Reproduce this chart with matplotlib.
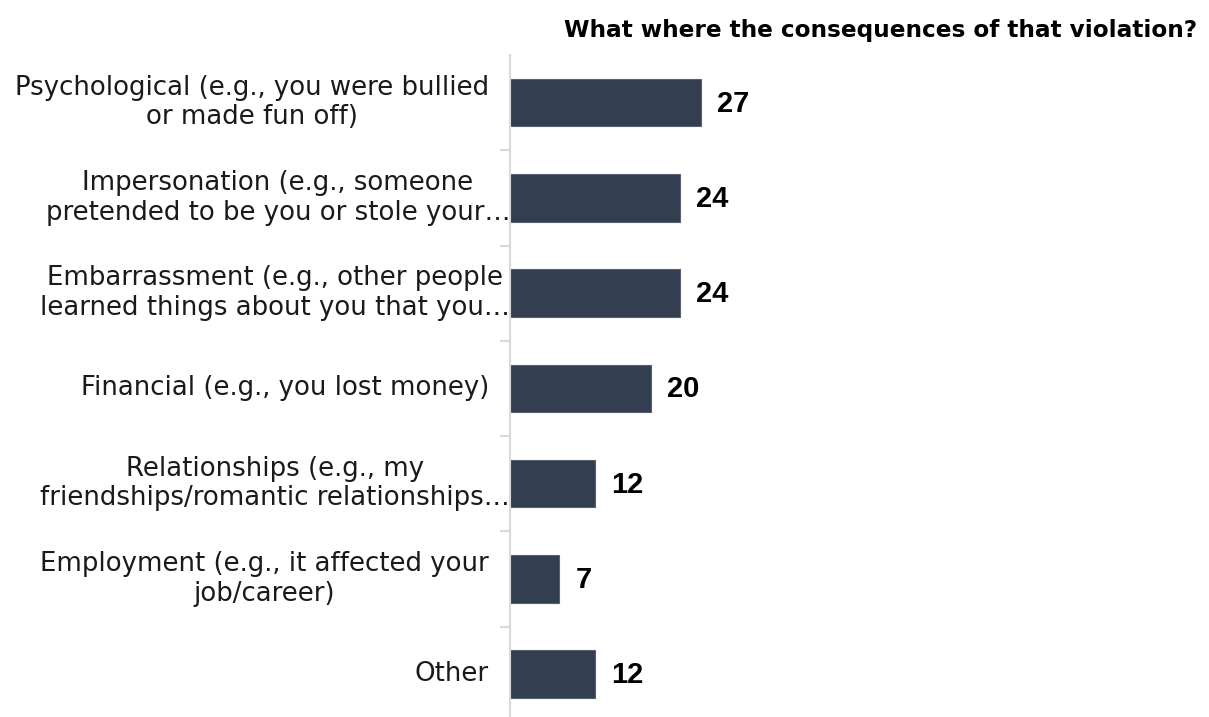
import matplotlib
matplotlib.use('Agg')
import matplotlib.pyplot as plt
import matplotlib.transforms as mtransforms

# survey answers, top to bottom
categories = [
    "Psychological (e.g., you were bullied\nor made fun off)",
    "Impersonation (e.g., someone\npretended to be you or stole your\u2026",
    "Embarrassment (e.g., other people\nlearned things about you that you\u2026",
    "Financial (e.g., you lost money)",
    "Relationships (e.g., my\nfriendships/romantic relationships\u2026",
    "Employment (e.g., it affected your\njob/career)",
    "Other",
]
values = [27, 24, 24, 20, 12, 7, 12]

title = "What where the consequences of that violation?"

bar_color = '#333f50'
axis_color = '#d9d9d9'

fig = plt.figure(figsize=(12.09, 7.17), dpi=100)
ax = fig.add_axes([510 / 1209, 0.0, 699 / 1209, 662 / 717])

y = list(range(len(categories)))
ax.barh(y, values, height=0.5, color=bar_color, edgecolor='#56606f', linewidth=0.8)
ax.set_ylim(6.45, -0.5)
ax.set_xlim(0, 98.9)

for s in ['top', 'right', 'bottom']:
    ax.spines[s].set_visible(False)
ax.spines['left'].set_color(axis_color)
ax.spines['left'].set_linewidth(1.5)
ax.set_xticks([])

# category separators drawn as small ticks on the axis
ax.set_yticks(y)
ax.set_yticklabels([])
ax.tick_params(axis='y', which='major', length=0)
ax.set_yticks([i + 0.5 for i in range(len(categories) - 1)], minor=True)
ax.tick_params(axis='y', which='minor', length=7, width=1.5, color=axis_color)

trans = mtransforms.blended_transform_factory(ax.transAxes, ax.transData)
for i, lab in enumerate(categories):
    shift = 0 if lab.endswith('\u2026') else -21
    off = mtransforms.offset_copy(trans, fig=fig, x=shift, y=0, units='dots')
    ax.text(0, i, lab, transform=off, ha='right', va='center', multialignment='center',
            fontsize=18.7, color='#1a1a1a', linespacing=1.18, family='DejaVu Sans')

for i, v in enumerate(values):
    ax.annotate(str(v), (v, i), xytext=(16, -1), textcoords='offset pixels',
                ha='left', va='center', fontsize=21, fontweight='bold',
                family='Liberation Sans', color='black')

fig.text(1197 / 1209, 1 - 31 / 717, title, ha='right', va='center',
         fontsize=16.7, fontweight='bold', family='DejaVu Sans', color='black')

fig.savefig('out.png', dpi=100)
